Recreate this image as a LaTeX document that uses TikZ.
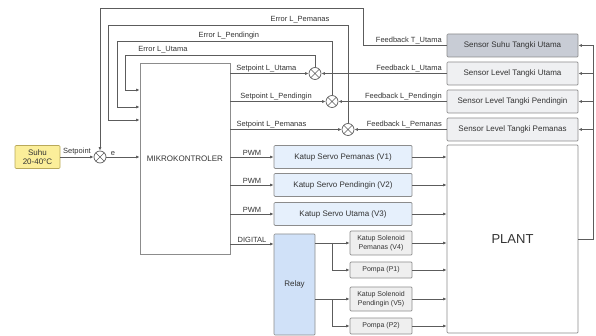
\documentclass[tikz,border=0pt]{standalone}
\usepackage{fontspec}
\setmainfont{Liberation Sans}
\usetikzlibrary{arrows.meta}

\definecolor{lineclr}{HTML}{5C5C5C}
\definecolor{boxclr}{HTML}{8C8C8C}
\definecolor{txtclr}{HTML}{333333}
\definecolor{suhuclr}{HTML}{FBEE9A}
\definecolor{suhubrd}{HTML}{B9A95A}
\definecolor{sensTclr}{HTML}{C8CCD5}
\definecolor{sensclr}{HTML}{EFF0F2}
\definecolor{servoclr}{HTML}{E6F0FC}
\definecolor{relayclr}{HTML}{D0E1F8}
\definecolor{smallclr}{HTML}{EFEFEF}

\tikzset{
  blok/.style={draw=boxclr, rounded corners=1pt, line width=0.7pt, align=center,
    inner sep=0pt, text=txtclr, font=\fontsize{8}{9.5}\selectfont},
  sum/.style={circle, draw=lineclr, line width=0.7pt, minimum size=12pt, inner sep=0pt,
    path picture={\draw[lineclr, line width=0.6pt]
      (path picture bounding box.north west) -- (path picture bounding box.south east)
      (path picture bounding box.north east) -- (path picture bounding box.south west);}},
  link/.style={draw=lineclr, line width=0.7pt, -{Latex[length=3.5pt,width=3pt]}},
  wire/.style={draw=lineclr, line width=0.7pt},
  lbl/.style={text=txtclr, inner sep=1.5pt, font=\fontsize{7.5}{9}\selectfont},
}

\begin{document}
\begin{tikzpicture}[x=1pt,y=-1pt]
  \useasboundingbox (0,0) rectangle (596,336);

  \node[blok, fill=suhuclr, draw=suhubrd, minimum width=45pt, minimum height=23pt] (suhu) at (37.5,157) {Suhu\\20-40°C};
  \node[sum] (sum0) at (100,157) {};
  \node[blok, rounded corners=0pt, minimum width=90pt, minimum height=191pt] (mc) at (185,158.5) {MIKROKONTROLER};

  \node[sum] (sum1) at (315,73.5) {};
  \node[sum] (sum2) at (332,101.5) {};
  \node[sum] (sum3) at (348,129.5) {};

  \node[blok, fill=sensTclr, minimum width=131pt, minimum height=23pt] (sT) at (512.5,45.5) {Sensor Suhu Tangki Utama};
  \node[blok, fill=sensclr, minimum width=131pt, minimum height=23pt] (sLU) at (512.5,73.5) {Sensor Level Tangki Utama};
  \node[blok, fill=sensclr, minimum width=131pt, minimum height=23pt] (sLD) at (512.5,101.5) {Sensor Level Tangki Pendingin};
  \node[blok, fill=sensclr, minimum width=131pt, minimum height=23pt] (sLP) at (512.5,129.5) {Sensor Level Tangki Pemanas};
  \node[blok, minimum width=131pt, minimum height=188pt, font=\fontsize{13}{15}\selectfont] (plant) at (512.5,239) {PLANT};

  \node[blok, fill=servoclr, minimum width=138pt, minimum height=23pt] (v1) at (343,157) {Katup Servo Pemanas (V1)};
  \node[blok, fill=servoclr, minimum width=138pt, minimum height=23pt] (v2) at (343,185) {Katup Servo Pendingin (V2)};
  \node[blok, fill=servoclr, minimum width=138pt, minimum height=23pt] (v3) at (343,214) {Katup Servo Utama (V3)};
  \node[blok, fill=relayclr, minimum width=41pt, minimum height=101pt] (relay) at (294.5,284.5) {Relay};

  \node[blok, fill=smallclr, minimum width=62pt, minimum height=24pt, font=\fontsize{7}{8.5}\selectfont] (v4) at (381,243) {Katup Solenoid\\Pemanas (V4)};
  \node[blok, fill=smallclr, minimum width=62pt, minimum height=16pt, font=\fontsize{7}{8.5}\selectfont] (p1) at (381,270) {Pompa (P1)};
  \node[blok, fill=smallclr, minimum width=62pt, minimum height=24pt, font=\fontsize{7}{8.5}\selectfont] (v5) at (381,299) {Katup Solenoid\\Pendingin (V5)};
  \node[blok, fill=smallclr, minimum width=62pt, minimum height=16pt, font=\fontsize{7}{8.5}\selectfont] (p2) at (381,326) {Pompa (P2)};

  \coordinate (fbR) at (593,0);
  \coordinate (br) at (332,0);

  % main loop
  \draw[link] (suhu.east) -- node[lbl, above] (lSp) {Setpoint} (sum0.west);
  \draw[link] (sum0.east) -- node[lbl, above, pos=0.2] (lE) {e} (mc.west |- sum0.east);
  \draw[link] (sT.west) -- node[lbl, above left, pos=0, xshift=-3pt] (lFT) {Feedback T\_Utama} (363,45.5) |- (100,8) -- (sum0.north);

  % level loops
  \draw[link] (sum1.north) |- node[lbl, above, pos=0.9] (lEU) {Error L\_Utama} (125,55) |- (mc.west |- 0,90);
  \draw[link] (sum2.north) |- node[lbl, above, pos=0.74] (lED) {Error L\_Pendingin} (117,41) |- (mc.west |- 0,107);
  \draw[link] (sum3.north) |- node[lbl, above, pos=0.6] (lEP) {Error L\_Pemanas} (108,25) |- (mc.west |- 0,120);

  \draw[link] (mc.east |- sum1.west) -- node[lbl, above, pos=0.46] (lSU) {Setpoint L\_Utama} (sum1.west);
  \draw[link] (mc.east |- sum2.west) -- node[lbl, above, pos=0.48] (lSD) {Setpoint L\_Pendingin} (sum2.west);
  \draw[link] (mc.east |- sum3.west) -- node[lbl, above, pos=0.37] (lSP) {Setpoint L\_Pemanas} (sum3.west);

  \draw[link] (sLU.west) -- node[lbl, above left, pos=0, xshift=-3pt] (lFU) {Feedback L\_Utama} (sum1.east);
  \draw[link] (sLD.west) -- node[lbl, above left, pos=0, xshift=-3pt] (lFD) {Feedback L\_Pendingin} (sum2.east);
  \draw[link] (sLP.west) -- node[lbl, above left, pos=0, xshift=-3pt] (lFP) {Feedback L\_Pemanas} (sum3.east);

  % actuators
  \draw[link] (mc.east |- v1.west) -- node[lbl, above] (lPW1) {PWM} (v1.west);
  \draw[link] (mc.east |- v2.west) -- node[lbl, above] (lPW2) {PWM} (v2.west);
  \draw[link] (mc.east |- v3.west) -- node[lbl, above] (lPW3) {PWM} (v3.west);
  \draw[link] (mc.east |- 0,244) -- node[lbl, above] (lDig) {DIGITAL} (relay.west |- 0,244);

  \draw[link] (relay.east |- v4.west) -- (v4.west);
  \draw[link] (br |- v4.west) |- (p1.west);
  \draw[link] (relay.east |- v5.west) -- (v5.west);
  \draw[link] (br |- v5.west) |- (p2.west);

  \foreach \b in {v1,v2,v3,v4,p1,v5,p2}
    \draw[link] (\b.east) -- (plant.west |- \b.east);

  % sensors
  \draw[wire] (plant.east) -| (fbR |- sT.east);
  \foreach \s in {sT,sLU,sLD,sLP}
    \draw[link] (fbR |- \s.east) -- (\s.east);
\end{tikzpicture}
\end{document}
